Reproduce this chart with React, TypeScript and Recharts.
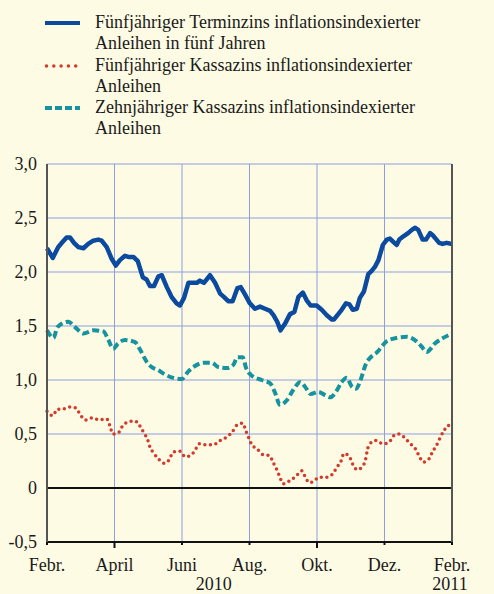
import { CartesianGrid, Line, LineChart, ReferenceLine, XAxis, YAxis } from "recharts"

// months since 1 Feb 2010
const terminT = [0, 0.17, 0.33, 0.44, 0.58, 0.68, 0.8, 0.93, 1.08, 1.22, 1.37, 1.52, 1.62, 1.77, 1.92, 2.04, 2.16, 2.31, 2.41, 2.56, 2.69, 2.84, 2.95, 3.05, 3.17, 3.3, 3.4, 3.55, 3.69, 3.84, 3.94, 4.06, 4.19, 4.32, 4.44, 4.53, 4.65, 4.83, 4.98, 5.13, 5.24, 5.37, 5.5, 5.64, 5.74, 5.87, 6.01, 6.16, 6.31, 6.46, 6.61, 6.71, 6.82, 6.92, 7.05, 7.2, 7.33, 7.45, 7.58, 7.69, 7.81, 7.99, 8.14, 8.29, 8.44, 8.5, 8.63, 8.73, 8.86, 8.96, 9.06, 9.18, 9.27, 9.39, 9.52, 9.62, 9.72, 9.82, 9.95, 10.07, 10.16, 10.26, 10.36, 10.44, 10.56, 10.7, 10.81, 10.9, 11.0, 11.13, 11.23, 11.35, 11.43, 11.62, 11.72, 11.84, 12]
const terminValues = [2.22, 2.13, 2.23, 2.27, 2.32, 2.32, 2.27, 2.23, 2.22, 2.26, 2.29, 2.3, 2.29, 2.23, 2.12, 2.06, 2.11, 2.15, 2.14, 2.14, 2.1, 1.95, 1.93, 1.87, 1.87, 1.96, 1.97, 1.86, 1.77, 1.71, 1.69, 1.76, 1.9, 1.9, 1.9, 1.92, 1.9, 1.97, 1.9, 1.8, 1.77, 1.73, 1.73, 1.85, 1.86, 1.79, 1.71, 1.66, 1.68, 1.66, 1.64, 1.6, 1.54, 1.46, 1.52, 1.61, 1.63, 1.77, 1.81, 1.74, 1.69, 1.69, 1.65, 1.6, 1.56, 1.56, 1.61, 1.65, 1.71, 1.7, 1.65, 1.66, 1.76, 1.82, 1.98, 2.01, 2.05, 2.11, 2.25, 2.3, 2.31, 2.28, 2.25, 2.3, 2.33, 2.36, 2.39, 2.41, 2.39, 2.3, 2.3, 2.36, 2.34, 2.27, 2.26, 2.27, 2.26]

const kasse5T = [0, 0.17, 0.31, 0.45, 0.65, 0.86, 0.98, 1.15, 1.34, 1.55, 1.77, 1.87, 1.95, 2.11, 2.23, 2.39, 2.61, 2.76, 2.87, 2.98, 3.05, 3.17, 3.3, 3.47, 3.64, 3.72, 3.94, 4.09, 4.24, 4.39, 4.51, 4.7, 4.93, 5.13, 5.32, 5.49, 5.62, 5.8, 5.89, 5.97, 6.07, 6.23, 6.39, 6.59, 6.71, 6.81, 6.9, 7.0, 7.2, 7.38, 7.55, 7.64, 7.77, 7.89, 8.06, 8.27, 8.47, 8.58, 8.7, 8.8, 8.96, 9.06, 9.19, 9.35, 9.45, 9.49, 9.57, 9.75, 9.95, 10.13, 10.26, 10.43, 10.61, 10.76, 10.9, 11.02, 11.15, 11.32, 11.43, 11.55, 11.64, 11.76, 11.89, 12]
const kasse5Values = [0.71, 0.67, 0.73, 0.73, 0.75, 0.74, 0.68, 0.63, 0.65, 0.63, 0.64, 0.57, 0.5, 0.51, 0.57, 0.61, 0.62, 0.57, 0.51, 0.45, 0.38, 0.32, 0.27, 0.23, 0.27, 0.33, 0.34, 0.29, 0.3, 0.35, 0.41, 0.4, 0.4, 0.44, 0.47, 0.52, 0.58, 0.6, 0.53, 0.47, 0.4, 0.36, 0.31, 0.3, 0.23, 0.17, 0.1, 0.04, 0.07, 0.11, 0.16, 0.11, 0.05, 0.06, 0.1, 0.1, 0.13, 0.19, 0.24, 0.32, 0.29, 0.22, 0.17, 0.2, 0.28, 0.35, 0.41, 0.44, 0.41, 0.42, 0.48, 0.5, 0.46, 0.41, 0.37, 0.3, 0.24, 0.27, 0.34, 0.4, 0.46, 0.53, 0.58, 0.56]

const kasse10T = [0, 0.19, 0.31, 0.63, 0.83, 1.08, 1.37, 1.67, 1.82, 1.96, 2.11, 2.31, 2.61, 2.76, 2.95, 3.1, 3.3, 3.5, 3.74, 3.99, 4.19, 4.44, 4.63, 4.88, 5.07, 5.32, 5.52, 5.64, 5.8, 5.9, 6.07, 6.36, 6.61, 6.76, 6.9, 7.1, 7.3, 7.5, 7.64, 7.81, 8.04, 8.24, 8.39, 8.56, 8.73, 8.88, 9.03, 9.16, 9.29, 9.45, 9.62, 9.79, 9.92, 10.07, 10.36, 10.66, 10.9, 11.1, 11.25, 11.5, 11.74, 12]
const kasse10Values = [1.46, 1.39, 1.49, 1.54, 1.49, 1.43, 1.46, 1.45, 1.37, 1.29, 1.34, 1.37, 1.35, 1.28, 1.17, 1.12, 1.09, 1.05, 1.02, 1.01, 1.08, 1.14, 1.16, 1.16, 1.12, 1.11, 1.14, 1.21, 1.21, 1.11, 1.04, 1.0, 0.97, 0.88, 0.77, 0.81, 0.91, 0.98, 0.94, 0.87, 0.89, 0.86, 0.84, 0.89, 0.98, 1.02, 0.94, 0.92, 1.0, 1.15, 1.22, 1.26, 1.31, 1.36, 1.39, 1.4, 1.37, 1.31, 1.26, 1.34, 1.39, 1.43]

const monthTicks = [0, 2, 4, 6, 8, 10, 12]
const monthLabels = ["Febr.", "April", "Juni", "Aug.", "Okt.", "Dez.", "Febr."]
const longTicks = [2, 8]
const yearTicks = [5, 12]
const yearLabels = ["2010", "2011"]
const yTicks = [-0.5, 0, 0.5, 1, 1.5, 2, 2.5, 3]

const seriesNames = [
  ["Fünfjähriger Terminzins inflationsindexierter", "Anleihen in fünf Jahren"],
  ["Fünfjähriger Kassazins inflationsindexierter", "Anleihen"],
  ["Zehnjähriger Kassazins inflationsindexierter", "Anleihen"],
]

const allXTicks = [...monthTicks, 5].sort((a, b) => a - b)

const toRows = (t: number[], v: number[]) => t.map((x, i) => ({ t: x, v: v[i] }))

const FONT = '"Liberation Serif", "Times New Roman", serif'
const FS = 18
const BG = "#fdfbe4"
const GRID = "#8e9fe0"
const BLUE = "#0b4a9e"
const RED = "#d23a2c"
const TEAL = "#16939f"
const INK = "#1a1a1a"

const fmtY = (v: number) => (v === 0 ? "0" : v.toFixed(1).replace(".", ","))

function MonthTick(props: any) {
  const { x, y, payload } = props
  const m = monthTicks.indexOf(payload.value)
  const yr = yearTicks.indexOf(payload.value)
  return (
    <g>
      {m >= 0 && (
        <line x1={x} x2={x} y1={y} y2={y + (longTicks.includes(payload.value) ? 6 : 3)} stroke="#111" strokeWidth={2} />
      )}
      {m >= 0 && (
        <text x={x} y={y + 29} textAnchor="middle" fill={INK} fontSize={FS} fontFamily={FONT}>
          {monthLabels[m]}
        </text>
      )}
      {yr >= 0 && (
        <text x={x - 2} y={y + 48} textAnchor="middle" fill={INK} fontSize={FS} fontFamily={FONT}>
          {yearLabels[yr]}
        </text>
      )}
    </g>
  )
}

function ValueTick(props: any) {
  const { x, y, payload, anchor } = props
  return (
    <text x={x} y={y} dy="0.35em" textAnchor={anchor} fill={INK} fontSize={FS} fontFamily={FONT}>
      {fmtY(payload.value)}
    </text>
  )
}

function LegendBox() {
  const markers = [
    <line x1={0} x2={35} y1={6} y2={6} stroke={BLUE} strokeWidth={4} />,
    <line x1={1.5} x2={35} y1={6} y2={6} stroke={RED} strokeWidth={3.5} strokeDasharray="0 7.3" strokeLinecap="round" />,
    <line x1={0} x2={35} y1={6} y2={6} stroke={TEAL} strokeWidth={4} strokeDasharray="7 3" />,
  ]
  return (
    <div style={{ position: "absolute", left: 0, top: 12, fontFamily: FONT, fontSize: FS, lineHeight: "21.3px", color: INK }}>
      {seriesNames.map((lines, i) => (
        <div key={i} style={{ position: "relative", paddingLeft: 95 }}>
          <svg width={36} height={12} style={{ position: "absolute", left: 45, top: 5 }}>
            {markers[i]}
          </svg>
          {lines.map((l, j) => (
            <div key={j}>{l}</div>
          ))}
        </div>
      ))}
    </div>
  )
}

export default function App() {
  return (
    <div style={{ position: "absolute", left: 0, top: 0, width: 494, height: 594, background: BG, overflow: "hidden", fontFamily: FONT }}>
      <LegendBox />
      <LineChart
        width={494}
        height={594}
        margin={{ top: 164, right: 0, bottom: 0, left: 0 }}
        style={{ position: "absolute", left: 0, top: 0, fontFamily: FONT }}
      >
        <CartesianGrid yAxisId="left" stroke={GRID} strokeWidth={1} verticalValues={monthTicks} horizontalValues={yTicks} />
        <XAxis
          dataKey="t"
          type="number"
          domain={[0, 12]}
          ticks={allXTicks}
          allowDuplicatedCategory={false}
          stroke="#111"
          strokeWidth={2}
          tickLine={false}
          tickSize={0}
          tickMargin={0}
          height={52}
          tick={<MonthTick />}
        />
        <YAxis
          yAxisId="left"
          domain={[-0.5, 3]}
          ticks={yTicks}
          width={47}
          stroke="#555"
          strokeWidth={2}
          tickLine={false}
          tickSize={0}
          tickMargin={10}
          tick={<ValueTick anchor="end" />}
        />
        <YAxis
          yAxisId="right"
          orientation="right"
          domain={[-0.5, 3]}
          ticks={yTicks}
          width={42}
          stroke="#555"
          strokeWidth={2}
          tickLine={false}
          tickSize={0}
          tickMargin={16}
          tick={<ValueTick anchor="start" />}
        />
        <ReferenceLine yAxisId="left" y={0} stroke="#111" strokeWidth={2} />
        <Line
          yAxisId="left"
          data={toRows(kasse5T, kasse5Values)}
          dataKey="v"
          type="monotone"
          stroke={RED}
          strokeWidth={3.5}
          strokeDasharray="0 5.6"
          strokeLinecap="round"
          dot={false}
          isAnimationActive={false}
        />
        <Line
          yAxisId="left"
          data={toRows(kasse10T, kasse10Values)}
          dataKey="v"
          type="monotone"
          stroke={TEAL}
          strokeWidth={4}
          strokeDasharray="7 3.5"
          dot={false}
          isAnimationActive={false}
        />
        <Line
          yAxisId="left"
          data={toRows(terminT, terminValues)}
          dataKey="v"
          type="linear"
          stroke={BLUE}
          strokeWidth={4.5}
          strokeLinejoin="round"
          dot={false}
          isAnimationActive={false}
        />
      </LineChart>
    </div>
  )
}
